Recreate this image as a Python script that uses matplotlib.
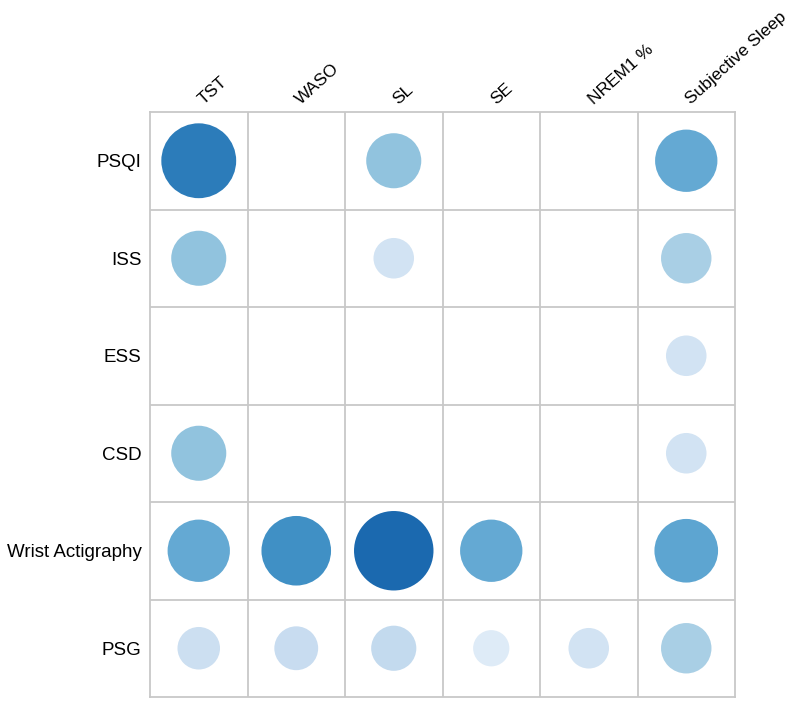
import matplotlib
matplotlib.use('Agg')
import matplotlib.pyplot as plt
import numpy as np

plt.rcParams['font.family'] = ['Liberation Sans', 'DejaVu Sans']

rows = ['PSQI', 'ISS', 'ESS', 'CSD', 'Wrist Actigraphy', 'PSG']
cols = ['TST', 'WASO', 'SL', 'SE', 'NREM1 %', 'Subjective Sleep']

nan = np.nan
# association strength per cell (empty = no result)
psqi = [0.71, nan, 0.41, nan, nan, 0.52]
iss = [0.41, nan, 0.19, nan, nan, 0.34]
ess = [nan, nan, nan, nan, nan, 0.19]
csd = [0.41, nan, nan, nan, nan, 0.19]
wrist = [0.52, 0.63, 0.78, 0.52, nan, 0.54]
psg = [0.22, 0.24, 0.26, 0.125, 0.19, 0.34]

vals = np.array([psqi, iss, ess, csd, wrist, psg])

fig = plt.figure(figsize=(7.92, 7.03), dpi=100)
ax = fig.add_axes([150/792, 1 - 697/703, 585/792, 585/703])

cmap = plt.get_cmap('Blues')
xx, yy = np.meshgrid(np.arange(len(cols)), np.arange(len(rows)))
mask = ~np.isnan(vals)
diam_px = 28 + 66 * vals[mask]
ax.scatter(xx[mask] + 0.5, yy[mask] + 0.5, s=(diam_px * 0.72) ** 2,
           c=cmap(vals[mask]), edgecolors='none', zorder=3)

ax.set_xlim(0, len(cols))
ax.set_ylim(len(rows), 0)
for i in range(1, len(cols)):
    ax.axvline(i, color='#c8c8c8', lw=1.3, zorder=1)
for j in range(1, len(rows)):
    ax.axhline(j, color='#c8c8c8', lw=1.3, zorder=1)
for sp in ax.spines.values():
    sp.set_color('#c8c8c8')
    sp.set_linewidth(1.3)

ax.set_xticks([])
ax.set_yticks(np.arange(len(rows)) + 0.5)
ax.set_yticklabels(rows, fontsize=13.5)
ax.tick_params(axis='y', length=0, pad=6)

for i, c in enumerate(cols):
    ax.text(i + 0.55, -0.075, c, rotation=42, rotation_mode='anchor',
            ha='left', va='baseline', fontsize=12.5)

fig.savefig('out.png', dpi=100)
